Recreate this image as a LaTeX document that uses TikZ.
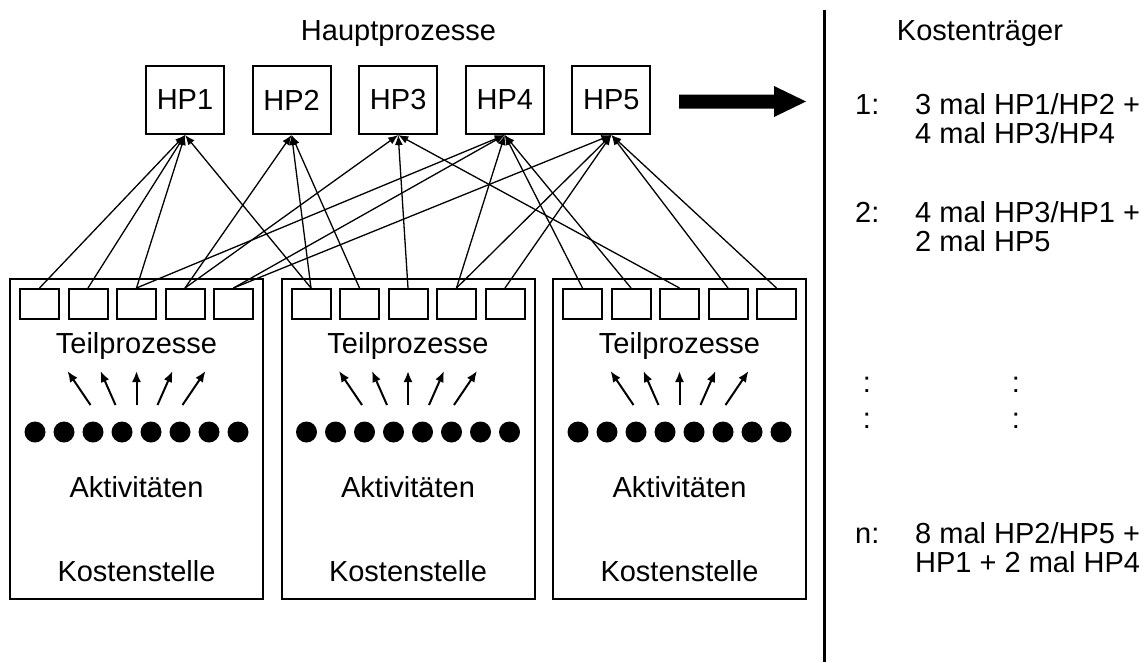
\documentclass[tikz,border=0pt]{standalone}
\usepackage{fontspec}
\setmainfont{Liberation Sans}
\usetikzlibrary{arrows.meta}
\begin{document}
\begin{tikzpicture}[x=1pt,y=-1pt,
  txt/.style={font=\fontsize{29}{31}\selectfont, inner sep=0pt},
  hpbox/.style={draw, line width=2pt, minimum width=78pt, minimum height=68pt,
    inner sep=0pt, font=\fontsize{29}{31}\selectfont},
  ksbox/.style={draw, line width=2pt, minimum width=253pt, minimum height=320pt, inner sep=0pt},
  tpbox/.style={draw, line width=2pt, minimum width=39pt, minimum height=30pt, inner sep=0pt},
  link/.style={line width=1.3pt, -{Latex[length=10pt,width=8pt]}},
  fan/.style={line width=2pt, -{Latex[length=11pt,width=9pt]}},
  dot/.style={circle, fill, inner sep=0pt, minimum size=21pt},
]
\useasboundingbox (0,0) rectangle (1145,662);

% main processes
\node[txt, anchor=base] (hptitle) at (398.5,40) {Hauptprozesse};
\foreach \i in {1,...,5}
  \node[hpbox] (hp\i) at ({185+106.6*(\i-1)},100) {HP\i};

% cost centres with sub-processes and activities
\foreach \b/\cx in {1/136.5, 2/408, 3/679.5} {
  \node[ksbox] (ks\b) at (\cx,439) {};
  \foreach \j in {1,...,5}
    \node[tpbox] (tp\b-\j) at ({\cx+(\j-3)*48.5},304) {};
  \node[txt, anchor=base] (tl\b) at (\cx,353) {Teilprozesse};
  \foreach \d in {1,...,8}
    \node[dot] (ak\b-\d) at ({\cx+(\d-4.5)*29},432) {};
  \foreach \k/\lo/\hi in {1/-46/-69, 2/-21/-36, 3/0/0, 4/21/36, 5/46/69} {
    \coordinate (fa\b-\k) at ({\cx+\lo},405);
    \coordinate (fb\b-\k) at ({\cx+\hi},371);
    \draw[fan] (fa\b-\k) -- (fb\b-\k);
  }
  \node[txt, anchor=base] (av\b) at (\cx,497) {Aktivitäten};
  \node[txt, anchor=base] (kl\b) at (\cx,581) {Kostenstelle};
}

% assignment of sub-processes to main processes
\foreach \s/\t in {1-1/1, 1-2/1, 1-3/1, 1-3/4, 1-4/2, 1-4/3, 1-5/4, 1-5/5,
                   2-1/1, 2-1/2, 2-2/2, 2-3/3, 2-4/4, 2-4/5, 2-5/5,
                   3-1/4, 3-2/4, 3-3/3, 3-4/5, 3-5/5}
  \draw[link] (tp\s.north) -- (hp\t.south);

% block arrow towards the cost objects
\fill (679,94.5) -- (774,94.5) -- (774,86) -- (806,101.5) -- (774,117) -- (774,108.5) -- (679,108.5) -- cycle;

% separator
\coordinate (septop) at (824,10);
\coordinate (sepbot) at (824,662);
\draw[line width=3pt] (septop) -- (sepbot);

% cost objects
\node[txt, anchor=base] (kt) at (980,40) {Kostenträger};
\node[txt, anchor=base west] (n1) at (855,114) {1:};
\node[txt, anchor=base west] (t1a) at (915,114) {3 mal HP1/HP2 +};
\node[txt, anchor=base west] (t1b) at (915,143) {4 mal HP3/HP4};
\node[txt, anchor=base west] (n2) at (855,222) {2:};
\node[txt, anchor=base west] (t2a) at (915,222) {4 mal HP3/HP1 +};
\node[txt, anchor=base west] (t2b) at (915,251) {2 mal HP5};
\node[txt, anchor=base] (c1) at (867,392) {:};
\node[txt, anchor=base] (c2) at (867,428) {:};
\node[txt, anchor=base] (c3) at (1016,392) {:};
\node[txt, anchor=base] (c4) at (1016,428) {:};
\node[txt, anchor=base west] (nn) at (855,543) {n:};
\node[txt, anchor=base west] (tna) at (915,543) {8 mal HP2/HP5 +};
\node[txt, anchor=base west] (tnb) at (915,572) {HP1 + 2 mal HP4};
\end{tikzpicture}
\end{document}
